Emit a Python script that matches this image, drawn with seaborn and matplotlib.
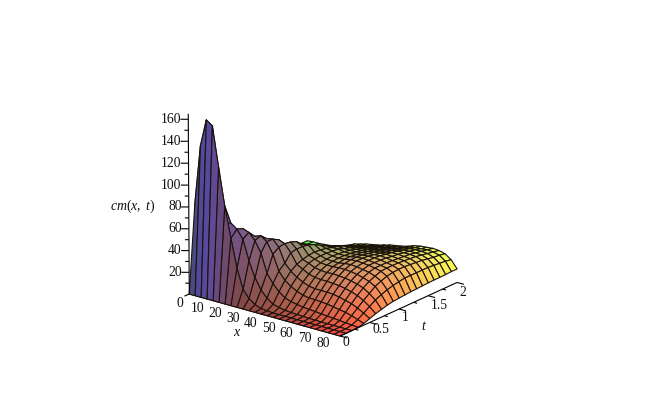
import numpy as np
import matplotlib
matplotlib.use("Agg")
import matplotlib.pyplot as plt
import seaborn as sns
from mpl_toolkits.mplot3d import proj3d

sns.set_theme(style="white")
plt.rcParams["font.family"] = ["Liberation Serif", "DejaVu Serif"]
plt.rcParams["mathtext.fontset"] = "custom"
plt.rcParams["mathtext.rm"] = "Liberation Serif"
plt.rcParams["mathtext.it"] = "Liberation Serif:italic"

x_values = [0, 3.2, 6.4, 9.6, 12.8, 16, 19.2, 22.4, 25.6, 28.8, 32, 35.2, 38.4,
            41.6, 44.8, 48, 51.2, 54.4, 57.6, 60.8, 64, 67.2, 70.4, 73.6, 76.8, 80]
t_values = [0, .1, .2, .3, .4, .5, .6, .7, .8, .9, 1, 1.1, 1.2, 1.3, 1.4, 1.5, 1.6,
            1.7, 1.8, 1.9, 2]

# cm(x, t), from t=0 to t=2
cm_x00 = [0, 80, 22, 11, 7, 5, 4, 3.5, 3, 3, 2.5, 2.5, 2, 2, 2, 1.5, 1.5, 1.5, 1.5, 1, 1]
cm_x03 = [0, 135, 34, 15, 10, 7, 5.5, 4.5, 4, 3.5, 3, 3, 2.5, 2.5, 2, 2, 2, 1.5, 1.5, 1.5, 1.5]
cm_x06 = [0, 160, 46, 22, 14, 10, 8, 6, 5, 4.5, 4, 3.5, 3, 3, 2.5, 2.5, 2, 2, 2, 2, 1.5]
cm_x10 = [0, 156, 58, 30, 19, 14, 11, 9, 7.5, 6.5, 5.5, 5, 4.5, 4, 3.5, 3, 3, 2.5, 2.5, 2.5, 2]
cm_x13 = [0, 120, 66, 38, 26, 19, 15, 12.5, 10.5, 9.5, 8.5, 7.5, 6.5, 6, 5.5, 5, 4.5, 4, 3.5, 3, 2.5]
cm_x16 = [0, 86, 68, 48, 36, 27, 22, 18, 15.5, 13.5, 12, 10.5, 9.5, 8.5, 7.5, 6.5, 6, 5.5, 5, 4.5, 4]
cm_x19 = [0, 58, 64, 62, 46, 37, 30, 25, 21.5, 18.5, 16, 14, 12, 11, 9.5, 8.5, 7.5, 7, 6.5, 6, 5.5]
cm_x22 = [0, 32, 56, 60, 54, 44, 37, 32, 27.5, 24, 21, 18, 15.5, 13.5, 11.5, 10, 9, 8.5, 8, 7.5, 7.5]
cm_x26 = [0, 14, 38, 54, 56, 51, 43, 38, 33, 29, 26, 23, 20, 17, 15, 13.5, 12, 11.5, 11, 10.5, 10]
cm_x29 = [0, 7, 24, 44, 52, 52, 49, 42, 38, 34, 31, 28, 25, 21.5, 18.5, 16, 14.5, 13.5, 13, 12, 11.5]
cm_x32 = [0, 3, 14, 27, 42, 46, 47, 46, 44, 39, 36, 33, 29.5, 26, 23, 20, 18, 16, 15, 14, 13]
cm_x35 = [0, 1, 8, 19, 28, 33, 40, 41, 41, 40, 38, 35, 32, 29, 26, 23, 20, 18, 16.5, 15, 14]
cm_x38 = [0, .5, 4, 13, 21, 27, 31, 33, 34.5, 35, 34.5, 33.5, 32, 30.5, 28.5, 26, 23, 20.5, 18.5, 16.5, 15]
cm_x42 = [0, 0, 2.5, 9, 17, 23, 28, 31, 32.5, 33, 33, 32.5, 32, 30, 28.5, 26.5, 24, 21.5, 19.5, 18, 16.5]
cm_x45 = [0, 0, 1.5, 7, 14, 20, 25, 28.5, 30.5, 31.5, 32, 31.5, 31, 30, 28.5, 27, 25, 23, 21, 19.5, 18]
cm_x48 = [0, 0, 1, 6, 12, 18, 23.5, 27.5, 30, 31, 31.5, 31.5, 31, 30, 29, 27.5, 25.5, 24, 22, 20.5, 19]
cm_x51 = [0, 0, .7, 5, 11, 17, 23, 27, 30, 31, 32, 32, 31.5, 31, 29.5, 28.5, 26.5, 25, 23, 21.5, 20]
cm_x54 = [0, 0, .5, 4.5, 11, 17, 23, 27.5, 30.5, 32, 33, 33, 32.5, 31.5, 30.5, 29, 27.5, 26, 24, 22.5, 21.5]
cm_x58 = [0, 0, .3, 4, 10.5, 17, 22.5, 27, 30.5, 32.5, 33.5, 33.5, 33, 32, 31, 29.5, 28.5, 27, 26, 24.5, 23.5]
cm_x61 = [0, 0, .2, 3.5, 10, 16.5, 22, 26.5, 30, 32, 33, 33, 33, 32.5, 31.5, 30.5, 29.5, 28, 27, 25.5, 24.5]
cm_x64 = [0, 0, 0, 3, 9, 15.5, 21, 25.5, 29, 31, 32.5, 32.5, 32.5, 32, 31, 30.5, 29.5, 28.5, 27.5, 26, 25]
cm_x67 = [0, 0, 0, 2.5, 8, 14, 19.5, 24, 27.5, 30, 31.5, 31.5, 31.5, 31, 30.5, 30, 29.5, 28.5, 27.5, 26.5, 25.5]
cm_x70 = [0, 0, 0, 2, 7, 12.5, 17.5, 22, 25.5, 28, 30, 30.5, 30.5, 30.5, 30, 29.5, 29, 28, 27, 26, 25]
cm_x74 = [0, 0, 0, 1.5, 5.5, 10, 14.5, 18.5, 22.5, 25, 27, 28, 28.5, 28.5, 28, 27.5, 27, 26, 25, 24.5, 23.5]
cm_x77 = [0, 0, 0, 1, 3.5, 7, 10.5, 14, 16.5, 18.5, 20, 21, 22, 22, 22, 22, 22, 21.5, 21, 20.5, 19.5]
cm_x80 = [0, 0, 0, .5, 1.5, 3.5, 5.5, 7, 8.5, 9.5, 10, 10.5, 11, 11.2, 11.5, 11.8, 12, 12, 12.2, 12.5, 12.5]

columns = [cm_x00, cm_x03, cm_x06, cm_x10, cm_x13, cm_x16, cm_x19, cm_x22, cm_x26,
           cm_x29, cm_x32, cm_x35, cm_x38, cm_x42, cm_x45, cm_x48, cm_x51, cm_x54,
           cm_x58, cm_x61, cm_x64, cm_x67, cm_x70, cm_x74, cm_x77, cm_x80]

z_major = [20, 40, 60, 80, 100, 120, 140, 160]
x_major = [0, 10, 20, 30, 40, 50, 60, 70, 80]
t_major = [0, 0.5, 1, 1.5, 2]
t_labels = ["0", "0.5", "1", "1.5", "2"]

Z = np.array(columns, dtype=float)            # rows: x, columns: t
X, T = np.meshgrid(x_values, t_values, indexing="ij")

# colour follows position: red with x, green with t, blue with height
XC = 0.5 * (X[:-1, :-1] + X[1:, 1:]) / 80
TC = 0.5 * (T[:-1, :-1] + T[1:, 1:]) / 2
ZC = 0.25 * (Z[:-1, :-1] + Z[1:, :-1] + Z[:-1, 1:] + Z[1:, 1:]) / 165
rgb = 0.27 + 0.73 * np.dstack([XC, TC, ZC])

fig = plt.figure(figsize=(6.46, 4.0), dpi=100, facecolor="white")
ax = fig.add_axes([-5 / 646, -4 / 400, 1, 1], projection="3d", computed_zorder=False)
ax.set_proj_type("persp", focal_length=4.0)
ax.view_init(elev=20, azim=-52)
ax.set_box_aspect((1, 1, 1), zoom=0.805)
ax.set_xlim(0, 80)
ax.set_ylim(0, 2)
ax.set_zlim(0, 165)
ax.set_axis_off()
ax.patch.set_alpha(0)

surf_kw = dict(shade=False, edgecolor="#1c120c", linewidth=0.8, antialiased=True)
# the part behind the steep first strip is painted first, so the strip hides it
ax.plot_surface(X[:, 1:], T[:, 1:], Z[:, 1:], facecolors=rgb[:, 1:], rcount=26, ccount=20,
                zorder=2, **surf_kw)
ax.plot_surface(X[:, :2], T[:, :2], Z[:, :2], facecolors=rgb[:, :1], rcount=26, ccount=2,
                zorder=2.5, **surf_kw)

axis_kw = dict(color="black", lw=0.8, zorder=3, solid_capstyle="butt")
fig.canvas.draw()
M = ax.get_proj()


def label(x, t, z, s, **kw):
    px, py, _ = proj3d.proj_transform(x, t, z, M)
    ax.text2D(px, py, s, transform=ax.transData, fontsize=9.8, color="#111111",
              va="center", **kw)


# z axis
ax.plot([0, 0], [0, 0], [0, 165], **axis_kw)
for z in range(10, 165, 10):
    major = z in z_major
    d = 2.6 if major else 1.3
    ax.plot([0, -d], [0, -d * 0.0192], [z, z], **axis_kw)
    if major:
        label(-2.4, -0.046, z, str(z), ha="right")
# x axis
ax.plot([0, 80], [0, 0], [0, 0], zorder=1, color="black", lw=0.8)
ax.plot([0, 0], [0, -0.08], [0, 0], **axis_kw)
for v in x_major:
    label(v - 1.0 - 0.05 * v, -0.13, -6, str(v), ha="center")
# t axis
ax.plot([80, 80], [0, 2], [0, 0], **axis_kw)
for v in np.arange(0, 2.01, 0.25):
    major = v in t_major
    d = 3.6 if major else 1.8
    ax.plot([80, 80 + d], [v, v], [0, 0], **axis_kw)
for v, s in zip(t_major, t_labels):
    label(81.5, v, -5 - 2 * v, s, ha="left")

fig.text(133 / 646, 1 - 206 / 400, r"$cm(x,\ t)$", ha="center", va="center", fontsize=10, color="#111111")
fig.text(237 / 646, 1 - 333 / 400, r"$x$", ha="center", va="center", fontsize=10, color="#111111")
fig.text(424 / 646, 1 - 326 / 400, r"$t$", ha="center", va="center", fontsize=10, color="#111111")

fig.savefig("out.png", dpi=100, facecolor="white")
